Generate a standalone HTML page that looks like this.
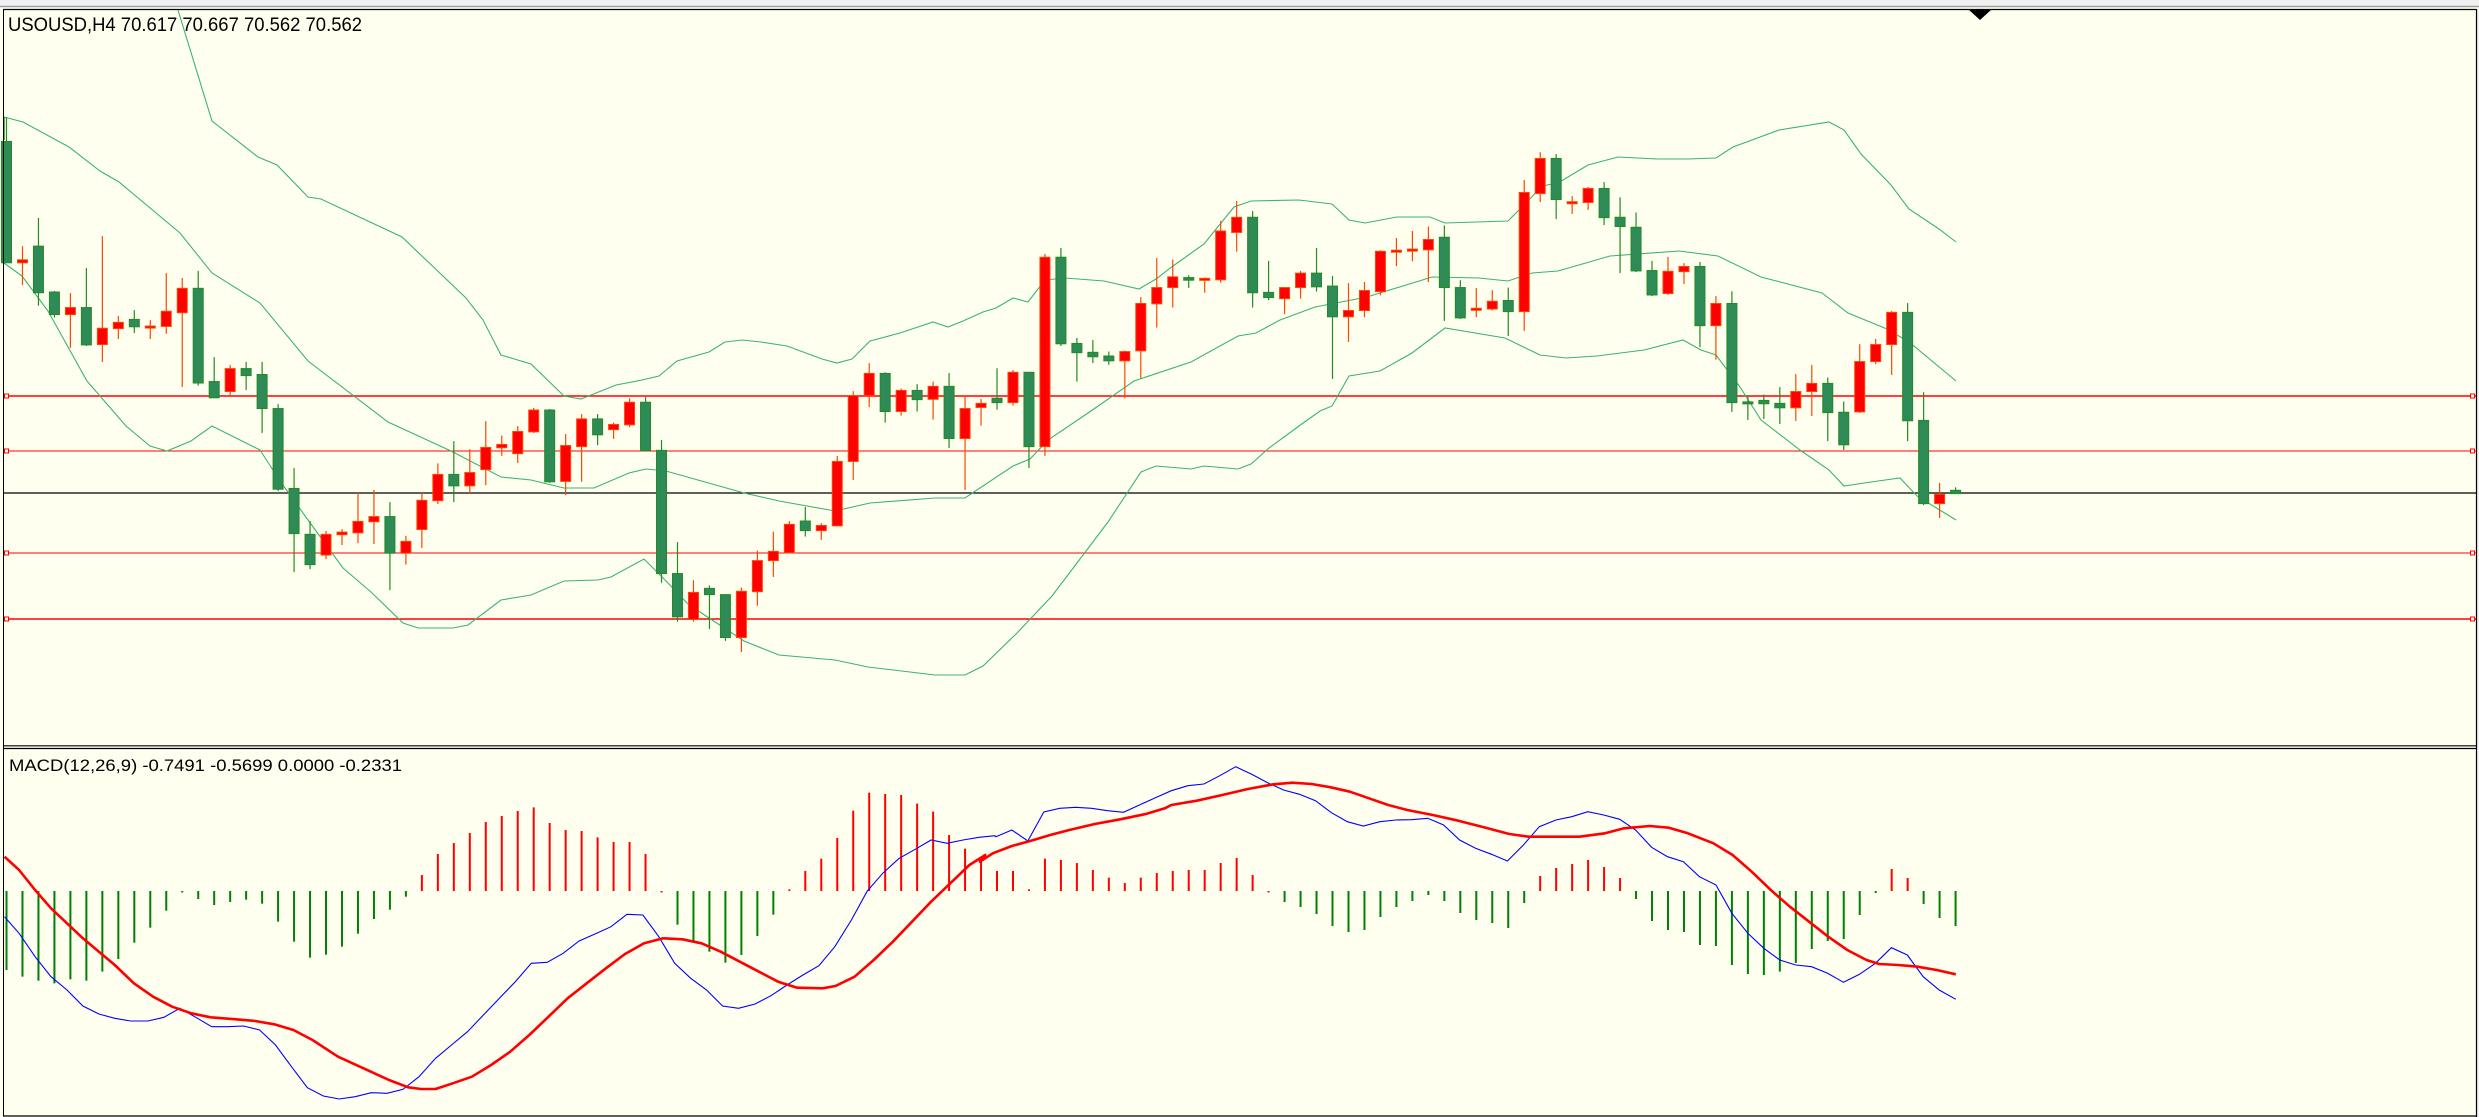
<!DOCTYPE html>
<html><head><meta charset="utf-8">
<style>
html,body{margin:0;padding:0;background:#fffff0;overflow:hidden}
svg{display:block}
text{font-family:"Liberation Sans",sans-serif;fill:#000}
</style></head>
<body>
<svg id="s" xmlns="http://www.w3.org/2000/svg" width="2479" height="1117" viewBox="0 0 2479 1117">
<rect x="0" y="0" width="2479" height="1117" fill="#fffff0"/>
<rect x="0" y="0" width="2479" height="6" fill="#f0f0f0"/>
<line x1="0" y1="6.5" x2="2479" y2="6.5" stroke="#a0a0a0" stroke-width="1.5"/>
<rect x="2477" y="9" width="2" height="1108" fill="#f0f0f0"/>
<g id="g"></g>
<line x1="3.5" y1="9.5" x2="3.5" y2="1116.5" stroke="#000" stroke-width="1"/>
<line x1="3" y1="9.5" x2="2476.5" y2="9.5" stroke="#000" stroke-width="1.2"/>
<line x1="2476.5" y1="9" x2="2476.5" y2="1117" stroke="#000" stroke-width="1.2"/>
<line x1="3" y1="745.8" x2="2477" y2="745.8" stroke="#000" stroke-width="1.2"/>
<line x1="3" y1="748.5" x2="2477" y2="748.5" stroke="#000" stroke-width="1.2"/>
<line x1="3" y1="1116" x2="2477" y2="1116" stroke="#000" stroke-width="1.2"/>
<polygon points="1969,10 1991,10 1980,20" fill="#000"/>
<text x="8" y="31" font-size="19" textLength="354" lengthAdjust="spacingAndGlyphs">USOUSD,H4  70.617 70.667 70.562 70.562</text>
<text x="9" y="771" font-size="17" textLength="393" lengthAdjust="spacingAndGlyphs">MACD(12,26,9) -0.7491 -0.5699 0.0000 -0.2331</text>
</svg>
<script>
var NS="http://www.w3.org/2000/svg",G=document.getElementById("g");
function el(t,a){var e=document.createElementNS(NS,t);for(var k in a)e.setAttribute(k,a[k]);G.appendChild(e);return e;}
function cx(i){return 6.5+(i-1)*15.976;}
// horizontal lines
[[396,1.6,"#ff0000"],[451,1.1,"#ff0000"],[553,1.1,"#ff0000"],[619,1.6,"#ff0000"],[493,1.3,"#000"]].forEach(function(l){
 el("line",{x1:4,y1:l[0],x2:2476,y2:l[0],stroke:l[2],"stroke-width":l[1]});
 if(l[2]!="#000"){el("rect",{x:4.5,y:l[0]-2,width:4,height:4,fill:"#fff",stroke:"#f00","stroke-width":1});
 el("rect",{x:2470.5,y:l[0]-2,width:4,height:4,fill:"#fff",stroke:"#f00","stroke-width":1});}
});
// bands (real coords)
var up=[[178,10],[212,121],[258,157],[277,165],[308,197],[321,199],[402,237],[466,298],[483,320],[501,355],[531,364],[564,396],[581,399],[616,385],[642,380],[659,376],[677,361],[709,352],[725,342],[742,340],[761,342],[787,346],[822,359],[837,363],[852,359],[870,341],[900,333],[933,322],[948,327],[963,321],[983,312],[996,308],[1013,298],[1028,302],[1045,280],[1065,278],[1104,281],[1139,289],[1156,279],[1173,266],[1204,244],[1234,207],[1251,201],[1299,200],[1332,204],[1349,220],[1365,223],[1397,217],[1430,217],[1445,223],[1508,221],[1525,204],[1542,186],[1558,183],[1588,165],[1618,157],[1657,159],[1688,159],[1716,158],[1733,147],[1779,130],[1829,122],[1844,130],[1861,154],[1891,185],[1909,209],[1939,229],[1956,242]];
var mid=[[4,117],[23,122],[69,147],[100,171],[119,182],[180,233],[212,273],[260,303],[308,361],[388,422],[451,451],[501,477],[531,480],[564,488],[594,488],[629,473],[646,469],[666,471],[744,493],[779,501],[835,511],[870,503],[935,498],[965,498],[1013,466],[1030,459],[1048,440],[1091,411],[1134,381],[1191,362],[1238,336],[1256,333],[1280,320],[1315,307],[1367,297],[1432,277],[1479,278],[1508,281],[1532,273],[1558,271],[1610,256],[1679,251],[1718,256],[1761,277],[1822,293],[1848,313],[1887,329],[1909,342],[1956,381]];
var lo=[[4,263],[22,276],[48,311],[87,381],[126,426],[150,446],[167,451],[191,441],[212,426],[260,450],[280,481],[308,520],[343,568],[371,592],[403,623],[418,628],[453,628],[468,625],[501,600],[531,595],[564,581],[598,580],[611,577],[644,559],[666,581],[688,604],[709,618],[744,641],[779,655],[835,660],[868,667],[935,675],[965,675],[983,666],[1017,633],[1052,596],[1108,522],[1141,472],[1156,466],[1191,469],[1204,466],[1238,469],[1251,464],[1269,448],[1299,426],[1320,411],[1332,406],[1349,376],[1380,371],[1412,353],[1445,328],[1505,338],[1540,355],[1566,358],[1597,356],[1644,350],[1683,340],[1701,350],[1716,355],[1740,387],[1761,420],[1800,450],[1829,470],[1844,486],[1878,481],[1900,478],[1917,496],[1956,520]];
[up,mid,lo].forEach(function(b){el("polyline",{points:b.map(function(p){return p.join(",")}).join(" "),fill:"none",stroke:"#3cb371","stroke-width":1.1});});
el("line",{x1:4,y1:117,x2:4,y2:140,stroke:"#228b22","stroke-width":1.5});
// candles: [bodyTop, bodyBot, wickTop, wickBot, color] in zoom out coords
var C=[[112,440,47,440,'g'],[432,440,395,500,'r'],[395,521,319,556,'g'],[519,580,516,588,'g'],[561,580,522,670,'r'],[561,662,454,665,'g'],[617,661,368,708,'r'],[601,618,584,646,'r'],[593,613,568,630,'g'],[611,613,595,646,'r'],
[571,612,468,632,'r'],[509,575,481,776,'r'],[509,765,462,772,'g'],[761,805,695,805,'g'],[726,788,716,798,'r'],[726,745,708,784,'g'],[742,834,708,900,'g'],[834,1052,822,1057,'g'],[1050,1172,995,1276,'g'],[1174,1256,1138,1268,'g'],
[1174,1230,1165,1241,'r'],[1168,1175,1160,1203,'r'],[1139,1170,1062,1198,'r'],[1126,1140,1054,1200,'r'],[1126,1225,1087,1325,'g'],[1193,1225,1178,1256,'r'],[1082,1161,1062,1211,'r'],[1012,1083,982,1092,'r'],[1012,1043,922,1087,'g'],[1007,1043,944,1065,'r'],
[939,999,868,1041,'r'],[931,940,907,962,'r'],[896,956,881,981,'r'],[838,897,832,900,'r'],[838,1032,835,1035,'g'],[934,1031,903,1068,'r'],[862,937,849,1032,'r'],[862,905,849,933,'g'],[877,891,872,916,'r'],[817,878,806,884,'r'],
[817,948,803,950,'g'],[947,1280,919,1305,'g'],[1280,1397,1195,1410,'g'],[1331,1404,1298,1410,'r'],[1320,1337,1312,1430,'g'],[1337,1453,1337,1462,'g'],[1328,1453,1318,1492,'r'],[1245,1329,1218,1367,'r'],[1220,1245,1167,1289,'r'],[1147,1224,1138,1225,'r'],
[1138,1164,1100,1180,'g'],[1150,1164,1144,1189,'r'],[977,1151,962,1152,'r'],[799,977,787,1027,'r'],[739,799,711,830,'r'],[739,842,736,872,'g'],[785,842,780,853,'r'],[785,810,768,842,'g'],[774,809,761,864,'r'],[774,915,738,941,'g'],
[834,915,799,1054,'r'],[820,831,808,880,'r'],[806,818,725,837,'g'],[736,818,730,826,'r'],[736,937,736,995,'g'],[425,937,416,962,'r'],[425,659,400,665,'g'],[658,683,643,761,'g'],[682,694,649,711,'g'],[692,705,680,716,'g'],
[680,705,677,806,'r'],[550,678,533,752,'r'],[507,551,427,615,'r'],[478,507,431,561,'r'],[480,487,474,508,'g'],[482,487,480,521,'r'],[354,486,327,494,'r'],[317,358,273,410,'r'],[317,521,300,561,'g'],[520,534,435,541,'g'],
[507,537,507,579,'r'],[468,507,462,537,'r'],[468,505,400,518,'g'],[503,586,476,754,'g'],[569,586,495,654,'r'],[515,569,492,587,'r'],[409,518,406,528,'r'],[406,410,373,449,'r'],[403,406,354,436,'r'],[377,405,342,492,'r'],
[371,507,339,597,'g'],[507,589,487,592,'g'],[563,567,508,587,'r'],[544,565,514,569,'r'],[542,572,507,638,'g'],[250,572,216,624,'r'],[158,253,141,276,'r'],[158,269,146,322,'g'],[275,277,260,308,'r'],[239,277,235,297,'r'],
[239,318,222,338,'g'],[317,342,263,468,'g'],[344,462,304,465,'g'],[461,527,435,530,'g'],[463,523,424,527,'r'],[450,464,441,497,'r'],[450,610,438,668,'g'],[550,610,530,702,'r'],[550,818,517,843,'g'],[816,818,798,865,'g'],
[812,821,796,862,'g'],[820,832,776,876,'g'],[788,832,741,868,'r'],[766,788,716,854,'r'],[766,845,750,922,'g'],[844,932,815,946,'g'],[707,843,660,846,'r'],[661,707,646,714,'r'],[574,661,570,743,'r'],[574,867,549,922,'g'],
[866,1091,790,1095,'g'],[1066,1091,1035,1130,'r'],[1055,1064,1047,1064,'g']];
function Y(o){return 100+o/2.703;}
C.forEach(function(c,k){var x=cx(k+1),r=c[4]=='r';
 var wc=r?"#ff4500":"#228b22",fc=r?"#ff0000":"#2e8b57";
 el("line",{x1:x,y1:Y(c[2]),x2:x,y2:Y(c[3]),stroke:wc,"stroke-width":1.2});
 var t=Y(c[0]),b=Y(c[1]);if(b-t<2){b=t+2;}
 el("rect",{x:x-5,y:t,width:10,height:b-t,fill:fc,stroke:wc,"stroke-width":1});
});
// MACD histogram: out y tips, zero at 483 (y=730+o/3)
var H=[720,740,752,760,748,752,725,687,638,593,542,485,507,525,516,509,521,575,635,683,674,650,611,567,539,500,435,372,339,309,276,258,243,232,279,300,303,322,336,336,372,485,584,634,665,698,675,618,554,478,423,386,324,242,188,192,195,221,245,315,356,395,423,423,478,386,390,399,420,443,459,443,429,423,420,420,399,384,435,485,516,531,552,588,606,600,561,531,513,495,513,549,570,579,594,519,438,414,402,390,411,444,507,573,600,606,645,648,705,732,735,725,699,657,633,627,555,489,417,444,522,564,588];
function MY(o){return 730+o/3;}
var redH=[27,28,29,30,31,32,33,34,35,36,37,38,39,40,41,42,50,51,52,53,54,55,56,57,58,59,60,61,62,63,64,65,66,67,68,69,70,71,72,73,74,75,76,77,78,79,80,97,98,99,100,101,102,119,120];
H.forEach(function(h,k){var i=k+1,x=cx(i);var red=redH.indexOf(i)>=0;var a=MY(483),b=MY(h);
 if(Math.abs(b-a)<1.5){b=a+(h<483?-1.5:1.5);}
 el("line",{x1:x,y1:a,x2:x,y2:b,stroke:red?"#ff0000":"#008000","stroke-width":2});});
function conv(arr,x0){return arr.map(function(p){return (x0+p[0]/1.568).toFixed(1)+","+MY(p[1]).toFixed(1)}).join(" ");}
var B1=[[7,560],[30,610],[55,680],[80,740],[105,780],[130,828],[155,852],[180,865],[205,873],[232,873],[257,862],[282,835],[307,862],[332,890],[357,890],[382,888],[407,900],[432,945],[457,1010],[482,1073],[507,1098],[532,1107],[557,1100],[582,1088],[607,1090],[632,1078],[657,1040],[683,985],[708,945],[733,905],[758,855],[783,805],[808,755],[833,700],[858,697],[883,670],[908,633],[933,612],[958,590],[983,553],[1008,555],[1033,620],[1058,700],[1083,745],[1108,780],[1133,828],[1158,835],[1184,822],[1209,797],[1234,765],[1259,735],[1284,707],[1309,650],[1335,570],[1360,483],[1385,428],[1410,385],[1435,358],[1460,330],[1485,340],[1510,330],[1535,322],[1560,317]];
var B2=[[25,320],[50,300],[75,333],[100,246],[125,235],[150,232],[175,235],[200,242],[225,247],[250,225],[275,203],[300,182],[326,167],[351,162],[376,137],[401,110],[426,133],[451,158],[476,180],[501,193],[526,212],[551,248],[576,275],[601,288],[627,275],[652,270],[677,269],[702,265],[727,285],[752,330],[777,355],[802,373],[827,393],[852,345],[877,290],[903,270],[928,260],[953,245],[978,255],[1003,268],[1028,300],[1053,352],[1078,380],[1103,395],[1128,440],[1154,465],[1179,550],[1204,610],[1229,655],[1254,690],[1279,705],[1304,710],[1329,730],[1354,757],[1379,733],[1404,700],[1429,653],[1454,675],[1479,740],[1504,780],[1530,808]];
var S1=[[7,380],[30,420],[55,480],[80,535],[105,580],[130,625],[155,665],[180,705],[210,760],[240,800],[270,830],[300,850],[330,862],[370,868],[400,873],[430,883],[460,900],[490,930],[530,980],[570,1015],[610,1050],[640,1072],[660,1077],[683,1077],[710,1060],[740,1040],[770,1005],[800,965],[830,915],[860,860],[890,805],[920,760],[950,715],[980,672],[1010,640],[1040,625],[1070,628],[1100,640],[1130,665],[1160,695],[1190,725],[1220,755],[1250,773],[1290,775],[1310,768],[1340,740],[1370,690],[1400,635],[1430,575],[1460,515],[1490,460],[1520,405],[1545,375]];
var S2=[[0,395],[20,370],[50,348],[80,332],[110,315],[140,300],[180,282],[220,268],[260,252],[290,235],[300,225],[340,212],[380,195],[420,177],[460,163],[490,158],[520,162],[550,172],[580,185],[610,205],[640,225],[670,240],[710,255],[750,272],[790,292],[830,312],[860,320],[900,320],[940,320],[980,310],[1010,295],[1050,288],[1080,293],[1110,310],[1150,340],[1180,375],[1210,425],[1240,480],[1270,530],[1300,575],[1330,620],[1360,660],[1390,690],[1410,702],[1440,705],[1470,710],[1500,720],[1530,733]];
el("polyline",{points:conv(B1,0)+" "+conv(B2,980),fill:"none",stroke:"#0000ff","stroke-width":1.1});
el("polyline",{points:conv(S1,0)+" "+conv(S2,980),fill:"none",stroke:"#ff0000","stroke-width":2.6,"stroke-linejoin":"round"});
</script>
</body></html>
